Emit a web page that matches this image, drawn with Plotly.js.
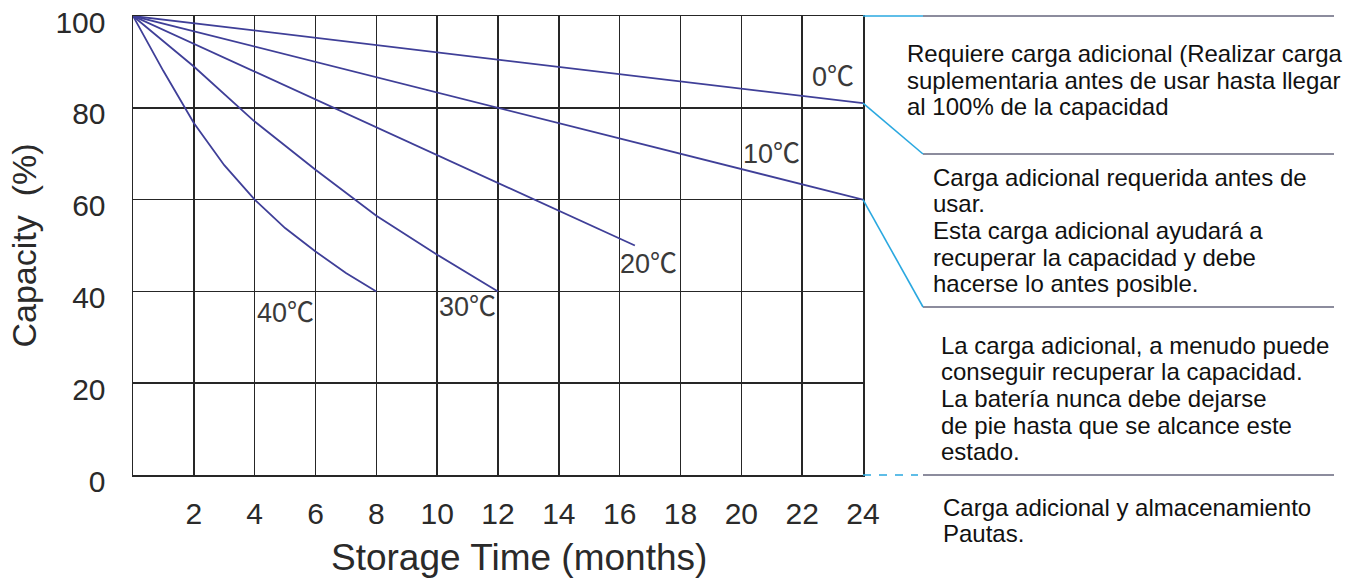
<!DOCTYPE html>
<html>
<head>
<meta charset="utf-8">
<script src="https://cdn.plot.ly/plotly-3.0.1.min.js"></script>
<style>
  html, body { margin: 0; padding: 0; background: #ffffff; }
  #chart { width: 1364px; height: 585px; }
</style>
</head>
<body>
<div id="chart"></div>
<script>
// ---- data ----
const seriesNames = ['0℃', '10℃', '20℃', '30℃', '40℃'];
const months0 = [0, 24];
const cap0 = [100, 81];
const months10 = [0, 24];
const cap10 = [100, 60];
const months20 = [0, 16.5];
const cap20 = [100, 50];
const months30 = [0, 2, 4, 6, 8, 10, 12];
const cap30 = [100, 89, 77, 66.5, 56.5, 48, 40];
const months40 = [0, 1, 2, 3, 4, 5, 6, 7, 8];
const cap40 = [100, 88, 76.7, 67.5, 60, 53.8, 48.7, 44, 40];

// label anchor positions (data coords) for each curve label
const labelX = [23.0, 21.0, 16.95, 11.0, 5.0];
const labelY = [86.7, 69.9, 45.9, 36.6, 35.3];

const xTickVals = [2, 4, 6, 8, 10, 12, 14, 16, 18, 20, 22, 24];
const yTickVals = [0, 20, 40, 60, 80, 100];
const xTitle = 'Storage Time (months)';
const yTitle = 'Capacity\u00a0\u00a0(%)';

const guideBlocks = [
  ['Requiere carga adicional (Realizar carga',
   'suplementaria antes de usar hasta llegar',
   'al 100% de la capacidad'],
  ['Carga adicional requerida antes de',
   'usar.',
   'Esta carga adicional ayudará a',
   'recuperar la capacidad y debe',
   'hacerse lo antes posible.'],
  ['La carga adicional, a menudo puede',
   'conseguir recuperar la capacidad.',
   'La batería nunca debe dejarse',
   'de pie hasta que se alcance este',
   'estado.'],
  ['Carga adicional y almacenamiento',
   'Pautas.']
];

// ---- layout geometry ----
const W = 1364, H = 585;
const M = {l: 133, r: 501, t: 16, b: 110};
const PW = W - M.l - M.r, PH = H - M.t - M.b;
const px2paperX = p => (p - M.l) / PW;
const py2paperY = p => (H - M.b - p) / PH;
const yMax = 100;

const curveColor = '#3f3f98';
const xsets = [months0, months10, months20, months30, months40];
const ysets = [cap0, cap10, cap20, cap30, cap40];

const traces = xsets.map((xs, i) => ({
  type: 'scatter', mode: 'lines', x: xs, y: ysets[i], name: seriesNames[i],
  line: {color: curveColor, width: 1.8}, hoverinfo: 'skip', cliponaxis: false
}));

const labelFont = {family: 'Liberation Sans, Arial, Noto Sans CJK SC, sans-serif', size: 27, color: '#3a3a3a'};
const annotations = seriesNames.map((n, i) => ({
  xref: 'x', yref: 'y', x: labelX[i], y: labelY[i], text: n, showarrow: false,
  xanchor: 'center', yanchor: 'middle', font: labelFont
}));

// x-axis title (placed as text below the axis, offset right as in the reference)
annotations.push({
  xref: 'paper', yref: 'paper', x: px2paperX(519), y: py2paperY(557), text: xTitle, showarrow: false,
  xanchor: 'center', yanchor: 'middle',
  font: {family: 'Liberation Sans, Arial, sans-serif', size: 37, color: '#2a2a2a'}
});

// guideline text blocks
const blockStartX = [905, 931, 939, 941];
const blockStartY = [53.5, 177, 345, 507];
const lineStep = 26.7;
const guideFont = {family: 'Liberation Sans, Arial, sans-serif', size: 24, color: '#111111'};
guideBlocks.forEach((lines, b) => {
  lines.forEach((t, k) => {
    annotations.push({
      xref: 'paper', yref: 'paper', x: px2paperX(blockStartX[b]), y: py2paperY(blockStartY[b] + k * lineStep),
      text: t, showarrow: false, xanchor: 'left', yanchor: 'middle', align: 'left', font: guideFont
    });
  });
});

// right-side guide lines
const grayLine = {color: '#66667c', width: 1.6};
const cyanLine = {color: '#2aa8e0', width: 1.6};
const xL = px2paperX(923), xR = px2paperX(1334);
const levelY = [1.0, py2paperY(154), py2paperY(307), 0];
const shapes = [];
levelY.forEach(y => shapes.push({type: 'line', xref: 'paper', yref: 'paper', x0: xL, x1: xR, y0: y, y1: y, line: grayLine}));
shapes.push({type: 'line', xref: 'paper', yref: 'paper', x0: 1, x1: xL, y0: 1, y1: 1, line: cyanLine});
shapes.push({type: 'line', xref: 'paper', yref: 'paper', x0: 1, x1: xL, y0: cap0[cap0.length - 1] / yMax, y1: levelY[1], line: cyanLine});
shapes.push({type: 'line', xref: 'paper', yref: 'paper', x0: 1, x1: xL, y0: cap10[cap10.length - 1] / yMax, y1: levelY[2], line: cyanLine});
shapes.push({type: 'line', xref: 'paper', yref: 'paper', x0: 1, x1: px2paperX(918), y0: 0, y1: 0, line: {color: '#2aa8e0', width: 1.6, dash: '8px,8px'}});

const gridC = '#262626';
const axisFont = {family: 'Liberation Sans, Arial, sans-serif', size: 30, color: '#2a2a2a'};

const layout = {
  width: W, height: H,
  margin: M,
  paper_bgcolor: '#ffffff', plot_bgcolor: '#ffffff',
  showlegend: false,
  xaxis: {
    range: [0, 24], tickvals: xTickVals, ticktext: xTickVals.map(String),
    showgrid: true, gridcolor: gridC, gridwidth: 1.5,
    showline: true, linecolor: gridC, linewidth: 1.5, mirror: true,
    zeroline: false, ticks: '', ticklabelstandoff: 11, ticklabeloverflow: 'allow',
    tickfont: axisFont, automargin: false, fixedrange: true
  },
  yaxis: {
    range: [0, 100], tickvals: yTickVals, ticktext: yTickVals.map(String),
    showgrid: true, gridcolor: gridC, gridwidth: 1.5,
    showline: true, linecolor: gridC, linewidth: 1.5, mirror: true,
    zeroline: false, ticks: '', ticklabelstandoff: 20, ticklabelshift: 6, ticklabeloverflow: 'allow',
    tickfont: axisFont, automargin: false, fixedrange: true,
    title: {text: yTitle, font: {family: 'Liberation Sans, Arial, sans-serif', size: 34, color: '#2a2a2a'}, standoff: 8}
  },
  annotations: annotations,
  shapes: shapes
};

Plotly.newPlot('chart', traces, layout, {staticPlot: true, displayModeBar: false});
</script>
</body>
</html>
